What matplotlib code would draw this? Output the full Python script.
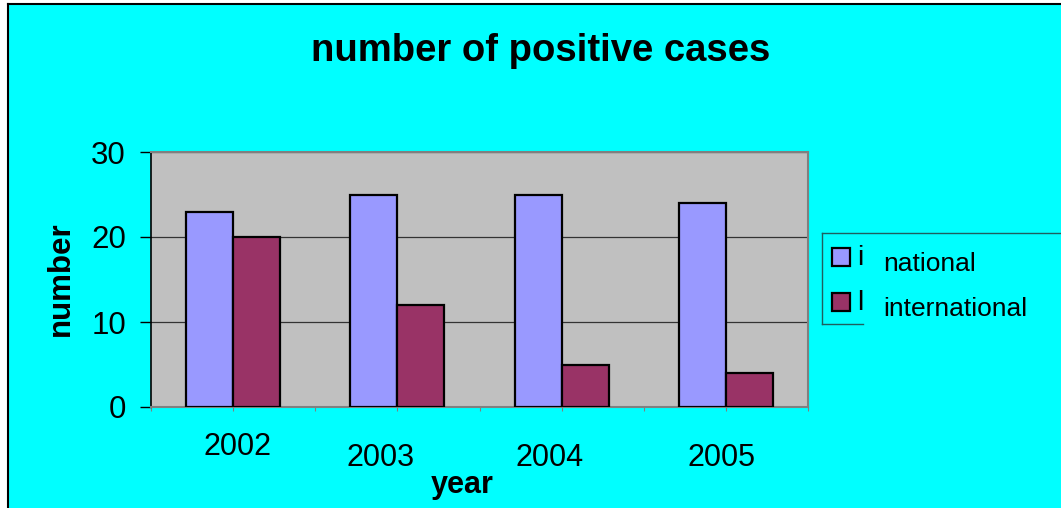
import matplotlib
matplotlib.use("Agg")
import matplotlib.pyplot as plt
import numpy as np
from matplotlib.patches import Rectangle
from matplotlib.lines import Line2D
import matplotlib.transforms as mtrans

plt.rcParams['font.family'] = ['Liberation Sans', 'DejaVu Sans']

years = ["2002", "2003", "2004", "2005"]
national = [23, 25, 25, 24]
international = [20, 12, 5, 4]
series_names = ["national", "international"]
yticks = [0, 10, 20, 30]

W, H = 1061, 508
fig = plt.figure(figsize=(W / 100, H / 100), dpi=100, facecolor="white")

# cyan background with black left/top border
bg = Rectangle((8 / W, 0), 1 - 8 / W, 1 - 4 / H, transform=fig.transFigure,
               facecolor="#00FFFF", edgecolor="none", zorder=-10)
fig.patches.append(bg)
fig.add_artist(Line2D([8 / W, 8 / W], [0, 1 - 4 / H], transform=fig.transFigure,
                      color="black", lw=1.5, zorder=-5))
fig.add_artist(Line2D([8 / W, 1], [1 - 4 / H, 1 - 4 / H], transform=fig.transFigure,
                      color="black", lw=1.5, zorder=-5))

ax = fig.add_axes([151 / W, 1 - 407 / H, (808 - 151) / W, (407 - 152) / H])
ax.set_zorder(1)
ax.set_facecolor("#C0C0C0")

x = np.arange(len(years))
bw = 0.286
b1 = ax.bar(x - bw / 2, national, bw, color="#9999FF", edgecolor="black", lw=1.6,
            label=series_names[0], zorder=3)
b2 = ax.bar(x + bw / 2, international, bw, color="#993366", edgecolor="black", lw=1.6,
            label=series_names[1], zorder=3)

ax.set_xlim(-0.5, len(years) - 0.5)
ax.set_ylim(0, 30)
ax.set_yticks(yticks)
ax.set_yticklabels([str(v) for v in yticks], fontsize=22.5)
ax.yaxis.grid(True, color="#333333", lw=0.9, zorder=1)
ax.set_axisbelow(True)
ax.tick_params(axis="y", length=8, width=1, pad=10, color="black")

ax.set_xticks(x)
ax.set_xticklabels(years, fontsize=22)
ax.set_xticks(np.arange(len(years) + 1) - 0.5, minor=True)
ax.tick_params(axis="x", which="major", length=3, width=0.8, color="#808080")
ax.tick_params(axis="x", which="minor", length=3, width=0.8, color="#808080")

# staggered / offset year labels as in the reference
dx_px = [4, -17, -12, -4]
pads = [15, 23, 23, 23]
for tick, lab, dx, pd in zip(ax.xaxis.get_major_ticks(), ax.get_xticklabels(), dx_px, pads):
    tick.set_pad(pd)
    lab.set_transform(lab.get_transform() + mtrans.ScaledTranslation(dx / 100, 0, fig.dpi_scale_trans))

for s in ["top", "right"]:
    ax.spines[s].set_color("#808080")
    ax.spines[s].set_linewidth(1.5)
ax.spines["left"].set_color("black")
ax.spines["left"].set_linewidth(1.2)
ax.spines["bottom"].set_color("#808080")
ax.spines["bottom"].set_linewidth(1.5)

ax.set_xlabel("year", fontsize=22, fontweight="bold")
ax.xaxis.set_label_coords((462 - 151) / 657, (407 - 485) / 255)
ax.xaxis.label.set_va("center")
ax.set_ylabel("number", fontsize=22.5, fontweight="bold")
ax.yaxis.set_label_coords((61 - 151) / 657, (407 - 279) / 255)
ax.yaxis.label.set_va("center")

fig.text(541 / W, 1 - 51 / H, "number of positive cases", fontsize=27.5,
         fontweight="bold", ha="center", va="center")

# legend box (clipped at the right edge in the reference)
fig.add_artist(Line2D([822 / W, 1], [1 - 233 / H] * 2, transform=fig.transFigure,
                      color="#1f5f5f", lw=1))
fig.add_artist(Line2D([822 / W, 822 / W], [1 - 233 / H, 1 - 324 / H], transform=fig.transFigure,
                      color="#1f5f5f", lw=1))
fig.add_artist(Line2D([822 / W, 863 / W], [1 - 324 / H] * 2, transform=fig.transFigure,
                      color="#1f5f5f", lw=1))
leg = fig.legend(handles=[b1, b2], labels=series_names, loc="upper left",
                 bbox_to_anchor=(832 / W, 1 - 247 / H), frameon=False, fontsize=19,
                 handlelength=0.7, handleheight=0.7, handletextpad=1.25,
                 labelspacing=0.8, borderaxespad=0, borderpad=0)
for hnd in leg.legend_handles:
    hnd.set_linewidth(1.6)
for t in leg.get_texts():
    t.set_transform(t.get_transform() + mtrans.ScaledTranslation(0, -5 / 100, fig.dpi_scale_trans))
for ch, yy in zip(["i", "l"], [258, 303]):
    fig.text(857 / W, 1 - yy / H, ch, fontsize=20, ha="left", va="center")

fig.savefig("out.png", dpi=100, facecolor="white")
